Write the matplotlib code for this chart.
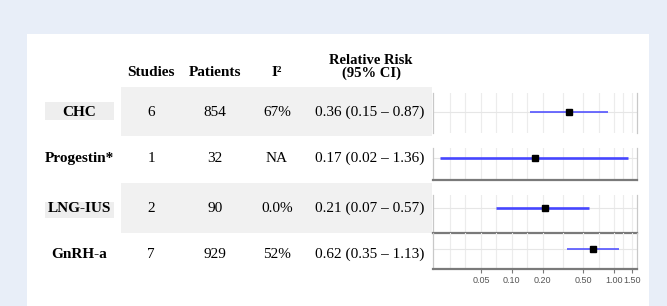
import matplotlib
matplotlib.use("Agg")
import matplotlib.pyplot as plt
from matplotlib.patches import Rectangle

# table data
groups = ["CHC", "Progestin*", "LNG-IUS", "GnRH-a"]
studies = [6, 1, 2, 7]
patients = [854, 32, 90, 929]
i2 = ["67%", "NA", "0.0%", "52%"]
rr = [0.36, 0.17, 0.21, 0.62]
ci_lo = [0.15, 0.02, 0.07, 0.35]
ci_hi = [0.87, 1.36, 0.57, 1.13]
tick_vals = [0.05, 0.10, 0.20, 0.50, 1.00, 1.50]
tick_labels = ["0.05", "0.10", "0.20", "0.50", "1.00", "1.50"]

W, H = 667, 306
BG = "#e8eef8"
SERIF = "Liberation Serif"


def fx(x):
    return x / W


def fy(y):
    return 1 - y / H


fig = plt.figure(figsize=(W / 100, H / 100), dpi=100)
fig.patch.set_facecolor(BG)

# white card
fig.patches.append(Rectangle((fx(27), 0), fx(649) - fx(27), fy(34), transform=fig.transFigure,
                             facecolor="white", edgecolor="none", zorder=-2))

# shaded rows (CHC, LNG-IUS)
for y0, y1 in [(87, 136), (183, 233)]:
    fig.patches.append(Rectangle((fx(121), fy(y1)), fx(432) - fx(121), fy(y0) - fy(y1),
                                 transform=fig.transFigure, facecolor="#f1f1f1",
                                 edgecolor="none", zorder=-1))
# label boxes
for y0, y1 in [(102, 120), (202, 218)]:
    fig.patches.append(Rectangle((fx(45), fy(y1)), fx(114) - fx(45), fy(y0) - fy(y1),
                                 transform=fig.transFigure, facecolor="#eeeeee",
                                 edgecolor="none", zorder=-1))

fs = 11
# header
col_x = [151, 215, 277, 371]
fig.text(fx(col_x[0]), fy(72), "Studies", ha="center", va="center", fontsize=fs,
         fontweight="bold", family=SERIF)
fig.text(fx(col_x[1]), fy(72), "Patients", ha="center", va="center", fontsize=fs,
         fontweight="bold", family=SERIF)
fig.text(fx(col_x[2]), fy(72), "I\u00b2", ha="center", va="center", fontsize=fs,
         fontweight="bold", family=SERIF)
fig.text(fx(col_x[3]), fy(67), "Relative Risk\n(95% CI)", ha="center", va="center",
         fontsize=fs - 0.5, fontweight="bold", family=SERIF, linespacing=1.05)

row_y = [112, 158, 208, 254]
for i, g in enumerate(groups):
    y = fy(row_y[i])
    fig.text(fx(79), y, g, ha="center", va="center", fontsize=fs, fontweight="bold", family=SERIF)
    fig.text(fx(col_x[0]), y, str(studies[i]), ha="center", va="center", fontsize=fs, family=SERIF)
    fig.text(fx(col_x[1]), y, str(patients[i]), ha="center", va="center", fontsize=fs, family=SERIF)
    fig.text(fx(col_x[2]), y, i2[i], ha="center", va="center", fontsize=fs, family=SERIF)
    fig.text(fx(col_x[3] - 1), y, f"{rr[i]:.2f} ({ci_lo[i]:.2f} \u2013 {ci_hi[i]:.2f})",
             ha="center", va="center", fontsize=fs, family=SERIF)

# forest panels, one per row
panels = [(93, 133), (148, 180), (195, 233), (233, 269)]
centers = [112, 158, 208, 249]
lwidths = [1.1, 1.9, 1.9, 1.1]
msizes = [4.5, 5.0, 5.0, 4.5]
xmin, xmax = 0.0169, 1.68
grid_x = [0.025, 0.035, 0.05, 0.07, 0.1, 0.14, 0.2, 0.32, 0.5, 0.71, 1.0, 1.22, 1.5]
for i in range(4):
    y0, y1 = panels[i]
    ax = fig.add_axes([fx(433), fy(y1), fx(637) - fx(433), fy(y0) - fy(y1)], zorder=2)
    ax.set_facecolor("none")
    ax.set_xscale("log")
    ax.set_xlim(xmin, xmax)
    c = centers[i]
    ax.set_ylim(y1, y0)
    for gx in grid_x:
        ax.axvline(gx, color="#ececec", lw=0.8, zorder=1)
    ax.axhline(c, color="#e6e6e6", lw=0.8, zorder=1)
    ax.plot([ci_lo[i], ci_hi[i]], [c, c], color="#4646ff", lw=lwidths[i], zorder=3,
            solid_capstyle="butt")
    ax.plot([rr[i]], [c], marker="s", color="black", markersize=msizes[i], zorder=4)
    ax.spines["top"].set_visible(False)
    for s in ["left", "right"]:
        ax.spines[s].set_color("#c8c8c8")
        ax.spines[s].set_linewidth(0.9)
    if i == 0:
        ax.spines["bottom"].set_visible(False)
    else:
        ax.spines["bottom"].set_color("#7a7a7a")
        ax.spines["bottom"].set_linewidth(1.6)
    ax.set_yticks([])
    ax.minorticks_off()
    if i == 3:
        ax.set_xticks(tick_vals)
        ax.set_xticklabels(tick_labels, fontsize=6.5, color="#555555", family="Liberation Sans")
        ax.tick_params(axis="x", length=3, width=0.8, color="#7a7a7a", pad=2)
    else:
        ax.set_xticks([])
    ax.minorticks_off()

fig.savefig("out.png", dpi=100, facecolor=BG)
